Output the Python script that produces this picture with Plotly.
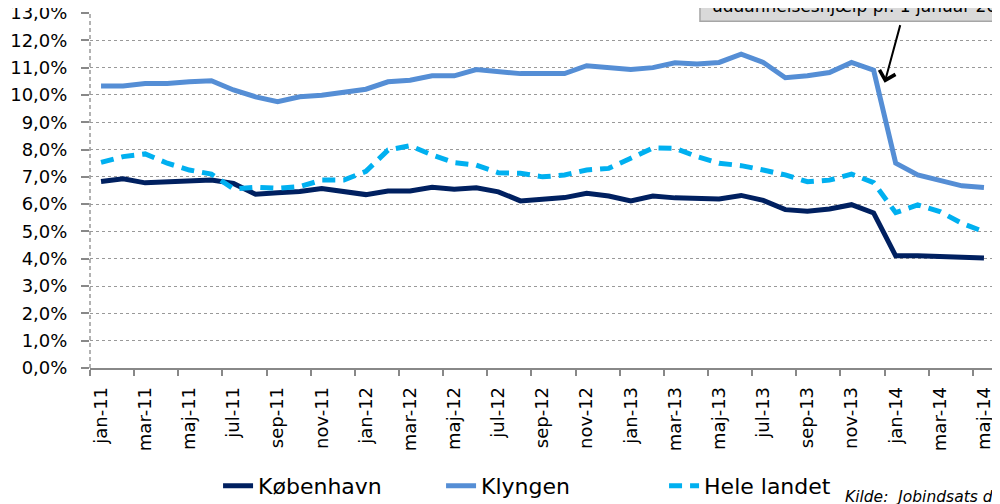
import plotly.graph_objects as go

months = ["jan-11", "feb-11", "mar-11", "apr-11", "maj-11", "jun-11", "jul-11", "aug-11", "sep-11", "okt-11", "nov-11", "dec-11",
          "jan-12", "feb-12", "mar-12", "apr-12", "maj-12", "jun-12", "jul-12", "aug-12", "sep-12", "okt-12", "nov-12", "dec-12",
          "jan-13", "feb-13", "mar-13", "apr-13", "maj-13", "jun-13", "jul-13", "aug-13", "sep-13", "okt-13", "nov-13", "dec-13",
          "jan-14", "feb-14", "mar-14", "apr-14", "maj-14"]

koebenhavn = [6.83, 6.93, 6.78, 6.82, 6.82, 6.88, 6.76, 6.36, 6.42, 6.46, 6.57, 6.44,
              6.35, 6.48, 6.48, 6.62, 6.55, 6.60, 6.45, 6.12, 6.18, 6.24, 6.40, 6.30,
              6.12, 6.30, 6.23, 6.19, 6.19, 6.32, 6.14, 5.80, 5.74, 5.82, 5.98, 5.68,
              4.11, 4.11, 4.08, 4.04, 4.03]

klyngen = [10.33, 10.33, 10.42, 10.42, 10.48, 10.52, 10.18, 9.93, 9.75, 9.93, 9.99, 10.12,
           10.21, 10.48, 10.54, 10.70, 10.70, 10.93, 10.87, 10.78, 10.78, 10.78, 11.07, 11.00,
           10.93, 11.00, 11.18, 11.13, 11.19, 11.49, 11.19, 10.63, 10.70, 10.82, 11.19, 10.91,
           7.50, 7.07, 6.88, 6.67, 6.61]

hele_landet = [7.53, 7.74, 7.84, 7.50, 7.25, 7.10, 6.56, 6.62, 6.58, 6.64, 6.88, 6.88,
               7.20, 7.98, 8.14, 7.80, 7.52, 7.43, 7.15, 7.13, 7.00, 7.07, 7.25, 7.31,
               7.68, 8.06, 8.05, 7.74, 7.50, 7.41, 7.25, 7.07, 6.82, 6.88, 7.10, 6.79,
               5.69, 5.97, 5.73, 5.30, 4.99]

series_names = ["København", "Klyngen", "Hele landet"]
colors = ["#002060", "#558ED5", "#00B0F0"]

callout_text = "uddannelseshjælp pr. 1 januar 2014"
source_text = "<i>Kilde:  Jobindsats data</i>"

FONT = "DejaVu Sans"

fig = go.Figure()
fig.add_trace(go.Scatter(x=months, y=koebenhavn, name=series_names[0], mode="lines",
                         line=dict(color=colors[0], width=5)))
fig.add_trace(go.Scatter(x=months, y=klyngen, name=series_names[1], mode="lines",
                         line=dict(color=colors[1], width=5)))
fig.add_trace(go.Scatter(x=months, y=hele_landet, name=series_names[2], mode="lines",
                         line=dict(color=colors[2], width=5, dash="13px,8px")))

fig.update_layout(
    width=992, height=496,
    margin=dict(l=82, r=5, t=5, b=136, autoexpand=False),
    paper_bgcolor="white", plot_bgcolor="white",
    separators=",.",
    font=dict(family=FONT, color="#000000", size=18),
    showlegend=True,
    legend=dict(orientation="h", x=0.1415, xanchor="left", y=-0.332, yanchor="middle",
                font=dict(family=FONT, size=22, color="#000000"),
                entrywidth=178, tracegroupgap=0),
    xaxis=dict(type="category", range=[-0.5, 40.5], tickmode="linear", tick0=0, dtick=2,
               tickson="boundaries", ticks="outside", ticklen=6, tickcolor="#888888", tickwidth=1.5,
               tickangle=-90, tickfont=dict(family=FONT, size=18, color="#000000"),
               showline=True, linecolor="#888888", linewidth=1.5, showgrid=False,
               ticklabelstandoff=10, ticklabeloverflow="allow", automargin=False, fixedrange=True),
    yaxis=dict(range=[0, 13], tickmode="linear", tick0=0, dtick=1, tickformat=".1f", ticksuffix="%",
               ticks="outside", ticklen=8, tickcolor="#888888", tickwidth=1.5,
               tickfont=dict(family=FONT, size=18, color="#000000"),
               showgrid=True, gridcolor="#999999", gridwidth=1, griddash="dot",
               showline=False, zeroline=False, ticklabelstandoff=10, ticklabeloverflow="allow",
               automargin=False, fixedrange=True),
)

# dashed vertical y-axis line
fig.add_shape(type="line", xref="paper", yref="paper", x0=0, x1=0, y0=0, y1=1,
              line=dict(color="#999999", width=1.5, dash="4px,3px"))

# callout box at top (cut off by figure edge)
fig.add_shape(type="rect", xref="paper", yref="paper", x0=0.674, x1=1.1, y0=0.977, y1=1.2,
              fillcolor="#D9D9D9", line=dict(color="#A6A6A6", width=1.5), layer="above")
fig.add_annotation(xref="paper", yref="paper", x=0.685, y=0.986, xanchor="left", yanchor="bottom",
                   text=callout_text, showarrow=False, font=dict(family=FONT, size=17, color="#000000"))

# arrow pointing at the drop
fig.add_annotation(x=35.5, y=10.45, xref="x", yref="y", text="", showarrow=True,
                   ax=16, ay=-59, arrowhead=4, arrowsize=1.6, arrowwidth=2, arrowcolor="#000000")

# source text
fig.add_annotation(xref="paper", yref="paper", x=0.832, y=-0.363, xanchor="left", yanchor="middle",
                   text=source_text, showarrow=False, font=dict(family=FONT, size=15.5, color="#000000"))

fig.write_html("out.html")
